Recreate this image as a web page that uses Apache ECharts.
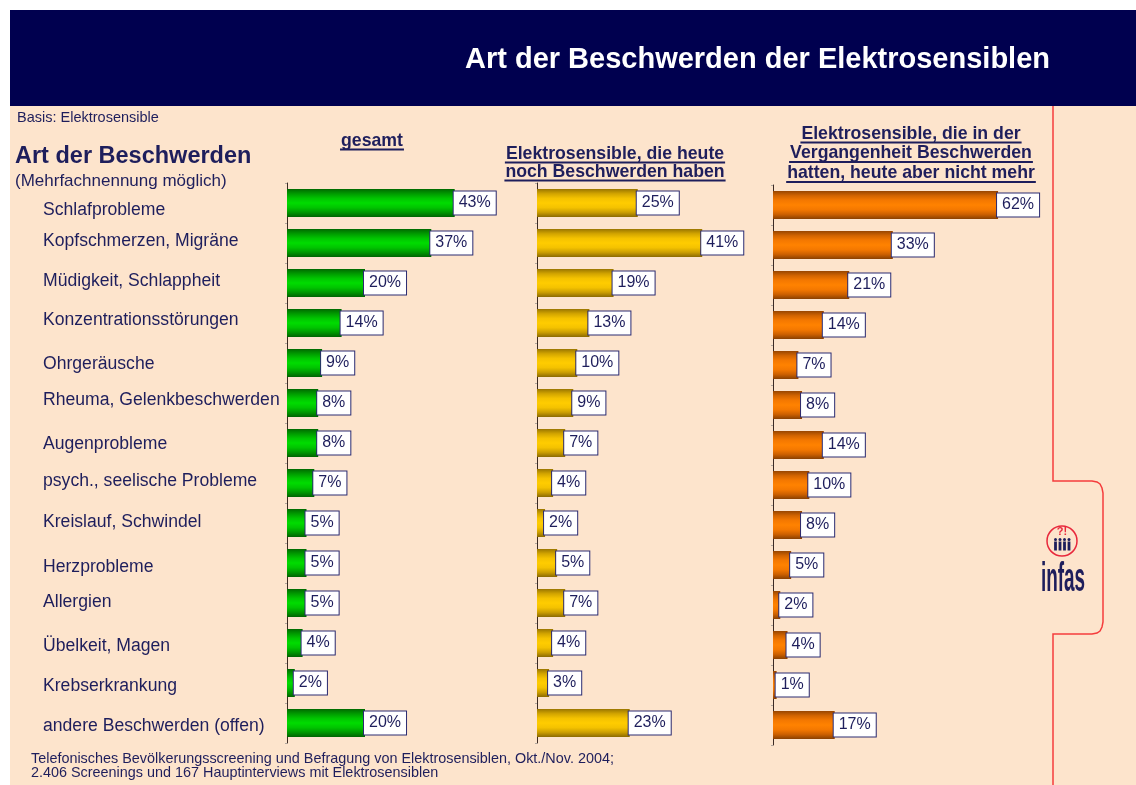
<!DOCTYPE html>
<html>
<head>
<meta charset="utf-8">
<script src="https://cdn.jsdelivr.net/npm/echarts@6/dist/echarts.min.js"></script>
<style>
  html, body { margin: 0; padding: 0; background: #fff; }
  #chart { width: 1136px; height: 785px; }
</style>
</head>
<body>
<div id="chart"></div>
<script>
const categories = [
  'Schlafprobleme', 'Kopfschmerzen, Migräne', 'Müdigkeit, Schlappheit', 'Konzentrationsstörungen',
  'Ohrgeräusche', 'Rheuma, Gelenkbeschwerden', 'Augenprobleme', 'psych., seelische Probleme',
  'Kreislauf, Schwindel', 'Herzprobleme', 'Allergien', 'Übelkeit, Magen', 'Krebserkrankung',
  'andere Beschwerden (offen)'
]
const gesamt = [43, 37, 20, 14, 9, 8, 8, 7, 5, 5, 5, 4, 2, 20]
const heute = [25, 41, 19, 13, 10, 9, 7, 4, 2, 5, 7, 4, 3, 23]
const frueher = [62, 33, 21, 14, 7, 8, 14, 10, 8, 5, 2, 4, 1, 17]

const headers = [
  ['gesamt'],
  ['Elektrosensible, die heute', 'noch Beschwerden haben'],
  ['Elektrosensible, die in der', 'Vergangenheit Beschwerden', 'hatten, heute aber nicht mehr']
]

const FONT = '"Liberation Sans", Arial, sans-serif'
const NAVY = '#1e1e5c'

// the original's row labels are not quite centred on their bars (px down)
const labelShift = [7.5, -1.5, -1.5, -2.5, 1.5, -2.5, 1.5, -2, -1, 4, -1, 3, 3, 3]

const chart = echarts.init(document.getElementById('chart'))

function grad(stops) {
  return new echarts.graphic.LinearGradient(0, 0, 0, 1,
    stops.map((c, i) => ({ offset: i / (stops.length - 1), color: c })))
}
const fills = [
  grad(['#006a00', '#009a00', '#00c400', '#00dc00', '#00c400', '#009800', '#006400']),
  grad(['#9a7600', '#d2a400', '#f4c200', '#ffcc00', '#f4c200', '#cc9e00', '#8c6a00']),
  grad(['#984600', '#d26400', '#f47800', '#ff8200', '#f47800', '#cc6000', '#8a4000'])
]

// panels: left edge and px per percent
const panels = [
  { left: 287, top: 183, width: 390, data: gesamt },
  { left: 537, top: 183, width: 403, data: heute },
  { left: 773, top: 185, width: 390, data: frueher }
]

const rowRich = {}
labelShift.forEach((s, i) => {
  rowRich['r' + i] = {
    color: NAVY, fontSize: 17.6, fontFamily: FONT,
    padding: [s > 0 ? 2 * s : 0, 0, s < 0 ? -2 * s : 0, 0]
  }
})

const measureCtx = document.createElement('canvas').getContext('2d')
function underlined(lines, cx, baselines) {
  const font = 'bold 17.7px ' + FONT
  measureCtx.font = font
  const els = []
  lines.forEach((t, i) => {
    const w = measureCtx.measureText(t).width
    els.push({
      type: 'text', x: cx, y: baselines[i] - 6,
      style: { text: t, font, fill: NAVY, align: 'center', verticalAlign: 'middle' }
    })
    els.push({
      type: 'line',
      shape: { x1: cx - w / 2 - 1, y1: baselines[i] + 2.5, x2: cx + w / 2 + 1, y2: baselines[i] + 2.5 },
      style: { stroke: NAVY, lineWidth: 2 }
    })
  })
  return els
}

function text(t, x, y, size, bold) {
  return {
    type: 'text', x, y,
    style: { text: t, font: (bold ? 'bold ' : '') + size + 'px ' + FONT, fill: NAVY, verticalAlign: 'middle' }
  }
}

// red bracket line on the right
const bracket = [
  [1053, 106], [1053, 481], [1092, 481], [1097, 482], [1100, 484], [1102, 488], [1103, 493],
  [1103, 622], [1102, 627], [1100, 631], [1097, 633], [1092, 634], [1053, 634], [1053, 785]
]

// little people in the logo
const people = []
for (let i = 0; i < 4; i++) {
  const px = 1055.5 + i * 4.5
  people.push({ type: 'circle', shape: { cx: px, cy: 539.5, r: 1.5 }, style: { fill: NAVY } })
  people.push({ type: 'rect', shape: { x: px - 1.4, y: 541.5, width: 2.8, height: 9 }, style: { fill: NAVY } })
}

const graphics = [
  { type: 'rect', shape: { x: 0, y: 0, width: 1136, height: 10 }, style: { fill: '#fff' } },
  { type: 'rect', shape: { x: 0, y: 0, width: 10, height: 785 }, style: { fill: '#fff' } },
  { type: 'rect', shape: { x: 10, y: 10, width: 1126, height: 96 }, style: { fill: '#00004f' } },
  { type: 'text', x: 1050, y: 60,
    style: { text: 'Art der Beschwerden der Elektrosensiblen', font: 'bold 29px ' + FONT, fill: '#fff', align: 'right', verticalAlign: 'middle' } },
  text('Basis: Elektrosensible', 17, 118, 14.5, false),
  text('Art der Beschwerden', 15, 157, 23.5, true),
  text('(Mehrfachnennung möglich)', 15, 181, 17, false),
  text('Telefonisches Bevölkerungsscreening und Befragung von Elektrosensiblen, Okt./Nov. 2004;', 31, 759, 14.4, false),
  text('2.406 Screenings und 167 Hauptinterviews mit Elektrosensiblen', 31, 773, 14.4, false),
  ...underlined(headers[0], 372, [147]),
  ...underlined(headers[1], 615, [160, 178]),
  ...underlined(headers[2], 911, [140, 159.5, 179.5]),
  { type: 'polyline', shape: { points: bracket }, style: { stroke: '#f53c3c', lineWidth: 1.5, fill: null } },
  { type: 'circle', shape: { cx: 1062, cy: 541, r: 15 }, style: { stroke: '#e8283c', lineWidth: 1.5, fill: null } },
  { type: 'text', x: 1062, y: 532, style: { text: '?!', font: 'bold 11px ' + FONT, fill: '#e8283c', align: 'center', verticalAlign: 'middle' } },
  ...people,
  { type: 'text', x: 1063, y: 580, scaleX: 0.9, scaleY: 1.95,
    style: { text: 'infas', font: 'bold 21px ' + FONT, fill: NAVY, align: 'center', verticalAlign: 'middle' } }
]

chart.setOption({
  backgroundColor: '#fde4cc',
  animation: false,
  grid: panels.map((p) => ({ left: p.left, top: p.top, width: p.width, height: 560 })),
  xAxis: panels.map((p, i) => ({ type: 'value', gridIndex: i, min: 0, max: 100, show: false })),
  yAxis: panels.map((p, i) => ({
    type: 'category', gridIndex: i, data: categories, inverse: true,
    axisLine: { show: true, lineStyle: { color: '#3c2a24', width: 1 } },
    axisTick: { show: true, length: 2, lineStyle: { color: '#b0a8a0' } },
    axisLabel: i === 0
      ? {
          show: true, align: 'left', margin: 244, color: NAVY, fontSize: 17.6, fontFamily: FONT,
          formatter: (v, idx) => '{r' + idx + '|' + v + '}', rich: rowRich
        }
      : { show: false }
  })),
  series: panels.map((p, i) => ({
    type: 'bar', xAxisIndex: i, yAxisIndex: i, data: p.data, barWidth: 28,
    itemStyle: { color: fills[i] },
    label: {
      show: true, position: 'right', distance: 0, offset: [-1, 0],
      formatter: '{c}%', color: NAVY, fontSize: 16, fontFamily: FONT,
      backgroundColor: '#fff', borderColor: '#2a2a70', borderWidth: 1, padding: [4, 5, 3, 5]
    }
  })),
  graphic: graphics
})
</script>
</body>
</html>
